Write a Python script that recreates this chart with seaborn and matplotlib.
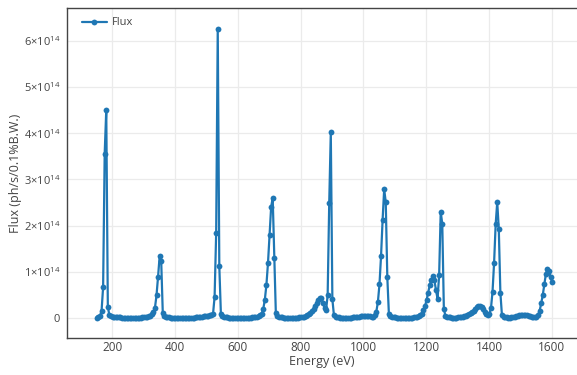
import numpy as np
import pandas as pd
import matplotlib
matplotlib.use("Agg")
import matplotlib.pyplot as plt
from matplotlib.ticker import FuncFormatter, FixedLocator
import seaborn as sns

# Photon energy grid (eV), sampled every 5 eV
energy_ev = np.arange(151, 1602, 5)

# Flux in units of 1e14 ph/s/0.1%B.W. (one row per 100 eV)
flux_e14 = [
    0.00, 0.02, 0.05, 0.15, 0.67, 3.56, 4.50, 0.25, 0.06, 0.04, 0.03, 0.03, 0.02, 0.02, 0.02, 0.02, 0.01, 0.01, 0.01, 0.01,
    0.01, 0.01, 0.01, 0.01, 0.01, 0.01, 0.01, 0.01, 0.01, 0.02, 0.02, 0.02, 0.03, 0.04, 0.05, 0.08, 0.13, 0.22, 0.49, 0.90,
    1.34, 1.23, 0.11, 0.04, 0.03, 0.02, 0.02, 0.01, 0.01, 0.01, 0.01, 0.01, 0.01, 0.01, 0.01, 0.01, 0.01, 0.01, 0.01, 0.01,
    0.01, 0.01, 0.01, 0.02, 0.02, 0.02, 0.03, 0.03, 0.04, 0.04, 0.05, 0.05, 0.06, 0.07, 0.09, 0.46, 1.84, 6.25, 1.12, 0.10,
    0.05, 0.03, 0.02, 0.02, 0.01, 0.01, 0.01, 0.01, 0.01, 0.01, 0.01, 0.01, 0.01, 0.01, 0.01, 0.01, 0.01, 0.01, 0.01, 0.02,
    0.02, 0.02, 0.03, 0.04, 0.06, 0.10, 0.20, 0.40, 0.72, 1.19, 1.80, 2.40, 2.60, 1.31, 0.11, 0.04, 0.03, 0.02, 0.02, 0.01,
    0.01, 0.01, 0.01, 0.01, 0.01, 0.01, 0.01, 0.01, 0.01, 0.02, 0.02, 0.02, 0.03, 0.04, 0.06, 0.08, 0.11, 0.15, 0.20, 0.26,
    0.33, 0.40, 0.44, 0.43, 0.33, 0.22, 0.17, 0.50, 2.49, 4.02, 0.41, 0.06, 0.03, 0.02, 0.02, 0.01, 0.01, 0.01, 0.01, 0.01,
    0.01, 0.01, 0.01, 0.02, 0.02, 0.02, 0.03, 0.03, 0.04, 0.04, 0.05, 0.05, 0.05, 0.05, 0.04, 0.03, 0.03, 0.06, 0.14, 0.35,
    0.73, 1.34, 2.13, 2.79, 2.51, 0.88, 0.09, 0.04, 0.03, 0.02, 0.02, 0.01, 0.01, 0.01, 0.01, 0.01, 0.01, 0.01, 0.01, 0.01,
    0.01, 0.01, 0.02, 0.02, 0.03, 0.05, 0.07, 0.10, 0.17, 0.26, 0.39, 0.55, 0.71, 0.82, 0.91, 0.82, 0.60, 0.42, 0.93, 2.30,
    2.04, 0.20, 0.05, 0.03, 0.02, 0.02, 0.01, 0.01, 0.01, 0.01, 0.02, 0.02, 0.02, 0.03, 0.04, 0.05, 0.07, 0.09, 0.11, 0.13,
    0.16, 0.20, 0.23, 0.26, 0.27, 0.25, 0.20, 0.14, 0.09, 0.06, 0.10, 0.21, 0.57, 1.20, 2.03, 2.51, 1.92, 0.55, 0.06, 0.03,
    0.02, 0.02, 0.01, 0.01, 0.02, 0.02, 0.03, 0.04, 0.05, 0.06, 0.07, 0.07, 0.07, 0.07, 0.06, 0.05, 0.04, 0.03, 0.02, 0.02,
    0.03, 0.06, 0.16, 0.32, 0.50, 0.73, 0.96, 1.07, 1.03, 0.88, 0.78,
]

x_ticks = [200, 400, 600, 800, 1000, 1200, 1400, 1600]
y_ticks_e14 = [0, 1, 2, 3, 4, 5, 6]
series_name = "Flux"

df = pd.DataFrame({"Energy": energy_ev, "Flux": np.array(flux_e14) * 1e14,
                   "series": series_name})

sns.set_style("white")
plt.rcParams["font.family"] = ["Open Sans", "DejaVu Sans"]
plt.rcParams["mathtext.fontset"] = "custom"
plt.rcParams["mathtext.rm"] = "Open Sans"
plt.rcParams["mathtext.it"] = "Open Sans:italic"

text_color = "#444444"
fig = plt.figure(figsize=(5.77, 3.75), dpi=100)
ax = fig.add_axes([67 / 577, 1 - 338 / 375, 1 - 67 / 577, (338 - 8) / 375])

sns.lineplot(data=df, x="Energy", y="Flux", hue="series", palette=["#1f77b4"],
             marker="o", markersize=4.2, markeredgewidth=0, linewidth=1.6,
             ax=ax, legend=True)

ax.set_xlim(56, 1680)
ax.set_ylim(-0.43e14, 6.71e14)
ax.xaxis.set_major_locator(FixedLocator(x_ticks))
ax.yaxis.set_major_locator(FixedLocator([v * 1e14 for v in y_ticks_e14]))

def yfmt(v, pos):
    n = int(round(v / 1e14))
    if n == 0:
        return "0"
    return r"$%d{\times}10^{14}$" % n

ax.yaxis.set_major_formatter(FuncFormatter(yfmt))
ax.grid(True, color="#ebebeb", linewidth=0.9)
ax.set_axisbelow(True)

for side in ["left", "bottom", "top"]:
    ax.spines[side].set_visible(True)
    ax.spines[side].set_color("#444444")
    ax.spines[side].set_linewidth(1.0)
ax.spines["right"].set_visible(False)

ax.tick_params(axis="y", direction="out", length=3, width=0.8, color="#444444",
               labelsize=8, labelcolor=text_color, pad=2)
ax.tick_params(axis="x", direction="out", length=0, width=0.8, color="#444444",
               labelsize=8.5, labelcolor=text_color, pad=2)

ax.set_xlabel("Energy (eV)", fontsize=9, color=text_color, labelpad=1)
ax.set_ylabel("Flux (ph/s/0.1%B.W.)", fontsize=9, color=text_color, labelpad=1)

leg = ax.legend(loc="upper left", bbox_to_anchor=(0.02, 0.985), frameon=False,
                fontsize=8, handlelength=2.3, handletextpad=0.4, borderaxespad=0)
for t in leg.get_texts():
    t.set_color(text_color)

fig.savefig("out.png", dpi=100)
